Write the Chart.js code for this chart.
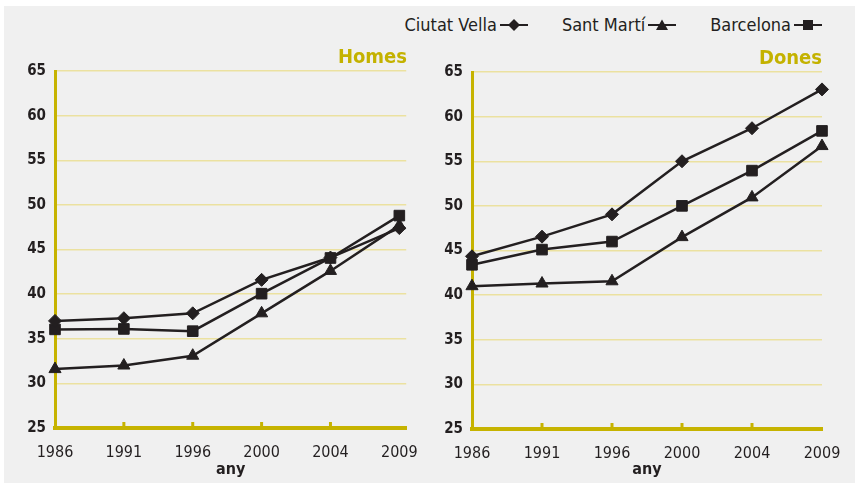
<!DOCTYPE html>
<html>
<head>
<meta charset="utf-8">
<script src="https://cdn.jsdelivr.net/npm/chart.js@4"></script>
<style>
  body { margin: 0; background: #fff; width: 855px; height: 483px; overflow: hidden; position: relative;
         font-family: 'Liberation Sans Narrow', 'DejaVu Sans Condensed', sans-serif; }
  #panel { position: absolute; left: 4px; top: 6px; right: 0; bottom: 0; background: #f0f0f0; }
  canvas { position: absolute; top: 0; }
  #legend { position: absolute; top: 14px; right: 33px; display: flex; align-items: center;
            font-size: 18px; line-height: 22px; color: #231f20; white-space: nowrap; }
  .item { display: flex; align-items: center; margin-left: 34px; }
  .item svg { margin-left: 3px; }
</style>
</head>
<body>
<div id="panel"></div>
<div id="legend"></div>
<canvas id="homes" width="425" height="483" style="left:0"></canvas>
<canvas id="dones" width="430" height="483" style="left:425px"></canvas>
<script>
// categories and series
const years = ['1986', '1991', '1996', '2000', '2004', '2009'];
const seriesNames = ['Ciutat Vella', 'Sant Martí', 'Barcelona'];

const homesCiutatVella = [37.0, 37.3, 37.85, 41.6, 44.1, 47.4];
const homesSantMarti   = [31.6, 32.0, 33.1, 37.85, 42.6, 47.7];
const homesBarcelona   = [36.05, 36.1, 35.85, 40.05, 44.05, 48.8];

const donesCiutatVella = [44.35, 46.55, 49.05, 55.0, 58.7, 63.05];
const donesSantMarti   = [41.0, 41.3, 41.55, 46.5, 50.95, 56.7];
const donesBarcelona   = [43.4, 45.1, 46.0, 50.0, 53.95, 58.4];

const yMin = 25, yMax = 65, yStep = 5;

const INK = '#231f20';
const AXIS = '#c6b300';
const GRID = '#ebe1a0';
const TITLE = '#c4b200';
const FONT = "'Liberation Sans Narrow', 'DejaVu Sans Condensed', sans-serif";

const pointStyles = ['rectRot', 'triangle', 'rect'];
const pointRadii = [6.5, 7, 7.5];

// legend: text first, then the line sample with its marker
const markerSvg = [
  '<polygon points="14,1 20,7 14,13 8,7" fill="' + INK + '"/>',
  '<polygon points="14,1.5 20,12 8,12" fill="' + INK + '"/>',
  '<rect x="9" y="2" width="10" height="10" fill="' + INK + '"/>'
];
document.getElementById('legend').innerHTML = seriesNames.map((name, i) =>
  '<span class="item">' + name +
  '<svg width="28" height="14"><line x1="0" y1="7" x2="28" y2="7" stroke="' + INK + '" stroke-width="2"/>' +
  markerSvg[i] + '</svg></span>').join('');

// small inner tick marks on the category axis
const innerTicks = {
  id: 'innerTicks',
  beforeDatasetsDraw(chart) {
    const ctx = chart.ctx, x = chart.scales.x, b = chart.chartArea.bottom;
    ctx.save();
    ctx.strokeStyle = AXIS;
    ctx.lineWidth = 3;
    x.ticks.forEach((t, i) => {
      if (i === 0 || i === x.ticks.length - 1) return;
      const px = x.getPixelForValue(t.value);
      ctx.beginPath();
      ctx.moveTo(px, b);
      ctx.lineTo(px, b - 6);
      ctx.stroke();
    });
    ctx.restore();
  }
};

function makeChart(id, title, values, o) {
  return new Chart(document.getElementById(id), {
    type: 'line',
    data: {
      datasets: seriesNames.map((name, i) => ({
        label: name,
        data: values[i].map((v, j) => ({ x: j, y: v })),
        borderColor: INK,
        backgroundColor: INK,
        borderWidth: 2.5,
        pointStyle: pointStyles[i],
        pointRadius: pointRadii[i],
        pointBorderWidth: 1,
        tension: 0,
        clip: false
      }))
    },
    options: {
      responsive: false,
      animation: false,
      devicePixelRatio: 1,
      layout: { padding: { top: o.padTop, right: o.padRight, bottom: 0, left: 0 } },
      plugins: {
        legend: { display: false },
        tooltip: { enabled: false },
        title: {
          display: true,
          text: title,
          align: 'end',
          color: TITLE,
          font: { family: FONT, size: 20, weight: 'bold' },
          padding: { top: 0, bottom: 1 }
        }
      },
      scales: {
        x: {
          type: 'linear',
          min: 0,
          max: o.xMax,
          grid: { display: false },
          border: { display: true, color: AXIS, width: 4 },
          ticks: {
            stepSize: 1,
            includeBounds: false,
            autoSkip: false,
            maxRotation: 0,
            padding: 7,
            color: INK,
            font: { family: FONT, size: 16 },
            callback: v => years[v] ?? ''
          },
          title: {
            display: true,
            text: 'any',
            color: INK,
            font: { family: FONT, size: 16, weight: 'bold' },
            padding: { top: 0, bottom: 4 }
          },
          afterFit: s => { s.height = o.xHeight; }
        },
        y: {
          min: yMin,
          max: yMax,
          grid: {
            color: c => c.tick && c.tick.value === yMin ? 'rgba(0,0,0,0)' : GRID,
            lineWidth: 1.5,
            drawTicks: false
          },
          border: { display: true, color: AXIS, width: 3 },
          ticks: {
            stepSize: yStep,
            padding: 9,
            color: INK,
            font: { family: FONT, size: 15, weight: 'bold' }
          },
          afterFit: s => { s.width = o.yWidth; }
        }
      }
    },
    plugins: [innerTicks]
  });
}

makeChart('homes', 'Homes', [homesCiutatVella, homesSantMarti, homesBarcelona],
  { padTop: 46, padRight: 18, xHeight: 55, yWidth: 55, xMax: 5.1 });
makeChart('dones', 'Dones', [donesCiutatVella, donesSantMarti, donesBarcelona],
  { padTop: 47, padRight: 33, xHeight: 54, yWidth: 47, xMax: 5 });
</script>
</body>
</html>
